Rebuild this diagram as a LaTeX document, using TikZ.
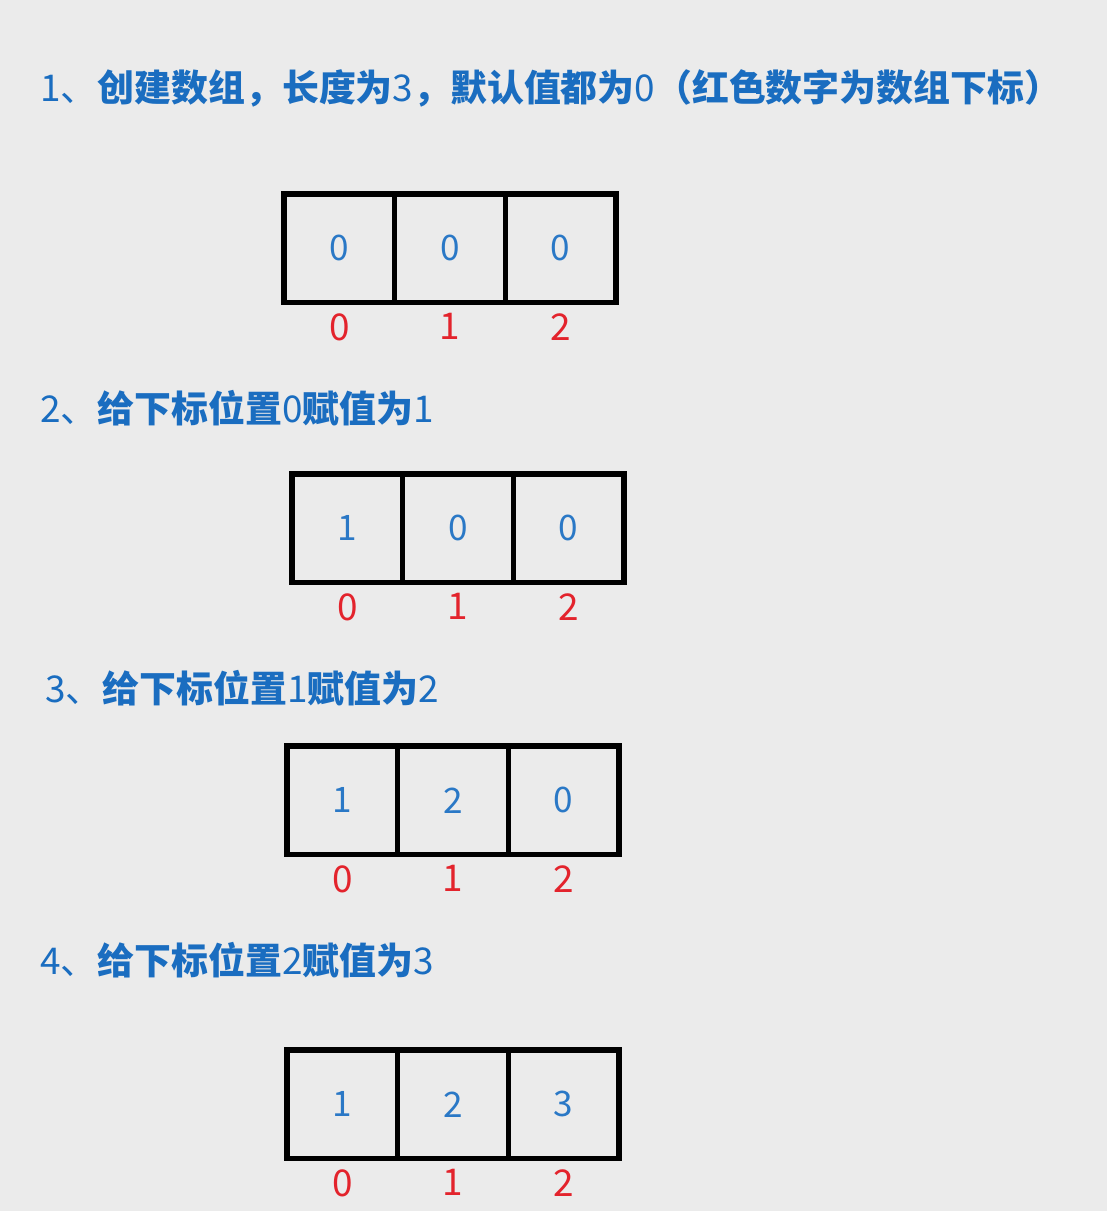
\documentclass[tikz,border=0pt]{standalone}
\usepackage{fontspec}
\usetikzlibrary{positioning,calc}
\newfontfamily\cjk{Noto Sans CJK SC}
\definecolor{bggray}{HTML}{EBEBEB}
\definecolor{titleblue}{HTML}{1A6DC0}
\definecolor{valblue}{HTML}{2A78C6}
\definecolor{idxred}{HTML}{E3232C}
\newcommand\dg[1]{{\mdseries #1}}

\begin{document}
\begin{tikzpicture}[x=0.02cm,y=-0.02cm]
	\tikzset{
		cell/.style={draw, line width=3pt, inner sep=0pt, outer sep=0pt,
			minimum width=2.214cm, minimum height=2.17cm,
			text=valblue, font=\cjk\fontsize{20}{20}\selectfont},
		idx/.style={inner sep=0pt, text=idxred, font=\cjk\fontsize{21}{21}\selectfont},
		title/.style={anchor=west, inner sep=0pt, text=titleblue,
			font=\cjk\bfseries\fontsize{21}{25}\selectfont}
	}
	\useasboundingbox[fill=bggray] (0,0) rectangle (1107,1211);

	% steps
	\node[title] (t1) at (40,88) {\dg{1、}创建数组，长度为\dg{3}，默认值都为\dg{0}（红色数字为数组下标）};
	\node[title] (t2) at (40,408) {\dg{2、}给下标位置\dg{0}赋值为\dg{1}};
	\node[title] (t3) at (45,688) {\dg{3、}给下标位置\dg{1}赋值为\dg{2}};
	\node[title] (t4) at (40,960) {\dg{4、}给下标位置\dg{2}赋值为\dg{3}};

	% arrays, red numbers are the indices
	\foreach \r/\lx/\ty/\va/\vb/\vc in {1/284/194/0/0/0, 2/292/474/1/0/0, 3/287/746/1/2/0, 4/287/1050/1/2/3} {
		\node[cell] (c\r0) at (\lx+55.35,\ty+54.25) {\va};
		\node[cell, right=0pt of c\r0] (c\r1) {\vb};
		\node[cell, right=0pt of c\r1] (c\r2) {\vc};
		\foreach \i in {0,1,2}
			\node[idx, below=6pt of c\r\i] (i\r\i) {\i};
	}
\end{tikzpicture}
\end{document}
